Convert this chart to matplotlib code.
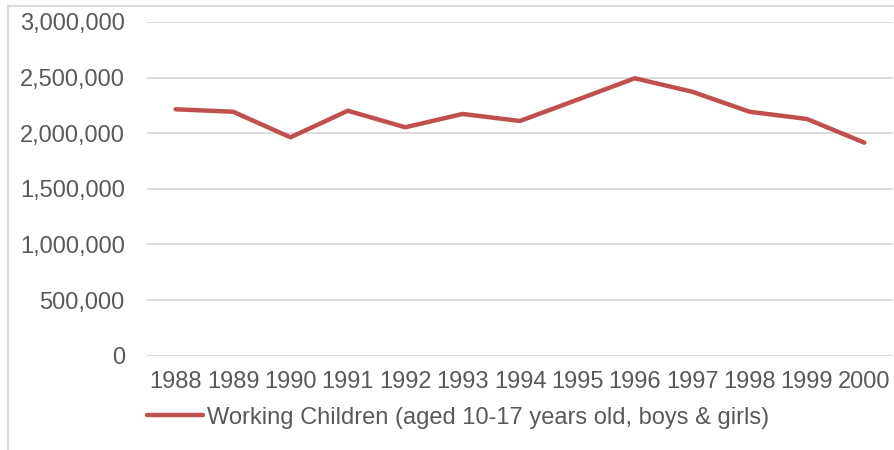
import matplotlib.pyplot as plt
from matplotlib.lines import Line2D
from matplotlib.ticker import FuncFormatter

# data
years = ['1988', '1989', '1990', '1991', '1992', '1993', '1994',
         '1995', '1996', '1997', '1998', '1999', '2000']
working_children = [2215000, 2193000, 1963000, 2202000, 2053000, 2173000, 2110000,
                    2301000, 2494000, 2373000, 2193000, 2128000, 1915000]
y_ticks = [0, 500000, 1000000, 1500000, 2000000, 2500000, 3000000]
series_label = 'Working Children (aged 10-17 years old, boys & girls)'

W, H = 894, 450
plt.rcParams['font.family'] = ['Liberation Sans', 'DejaVu Sans']
text_col = '#595959'
grid_col = '#D9D9D9'
line_col = '#C0504D'

fig = plt.figure(figsize=(W / 100, H / 100), dpi=100)
ax = fig.add_axes([147 / W, 1 - 355.6 / H, (893 - 147) / W, (355.6 - 22) / H])

x = list(range(len(years)))
ax.plot(x, working_children, color=line_col, linewidth=3.2,
        solid_capstyle='round', solid_joinstyle='round', label=series_label)

ax.set_xlim(-0.5, len(years) - 0.5)
ax.set_ylim(0, 3000000)
ax.set_yticks(y_ticks)
ax.yaxis.set_major_formatter(FuncFormatter(lambda v, p: f'{int(v):,}'))
ax.set_xticks(x)
ax.set_xticklabels(years)

ax.grid(axis='y', color=grid_col, linewidth=1.3)
ax.set_axisbelow(True)
for s in ax.spines.values():
    s.set_visible(False)
ax.tick_params(axis='both', length=0, labelsize=17, labelcolor=text_col)
ax.tick_params(axis='y', pad=16)
ax.tick_params(axis='x', pad=11)

# outer chart frame (left and top edges visible)
fig.add_artist(Line2D([8 / W, 8 / W], [0, 1 - 5.5 / H], color=grid_col, linewidth=1.5))
fig.add_artist(Line2D([8 / W, 1], [1 - 5.5 / H, 1 - 5.5 / H], color=grid_col, linewidth=1.5))

leg = fig.legend(loc='center left', bbox_to_anchor=(147 / W, 1 - 417.7 / H),
                 frameon=False, fontsize=17, handlelength=2.37, handletextpad=0.17,
                 borderpad=0, borderaxespad=0)
for t in leg.get_texts():
    t.set_color(text_col)

fig.savefig('out.png', dpi=100)
